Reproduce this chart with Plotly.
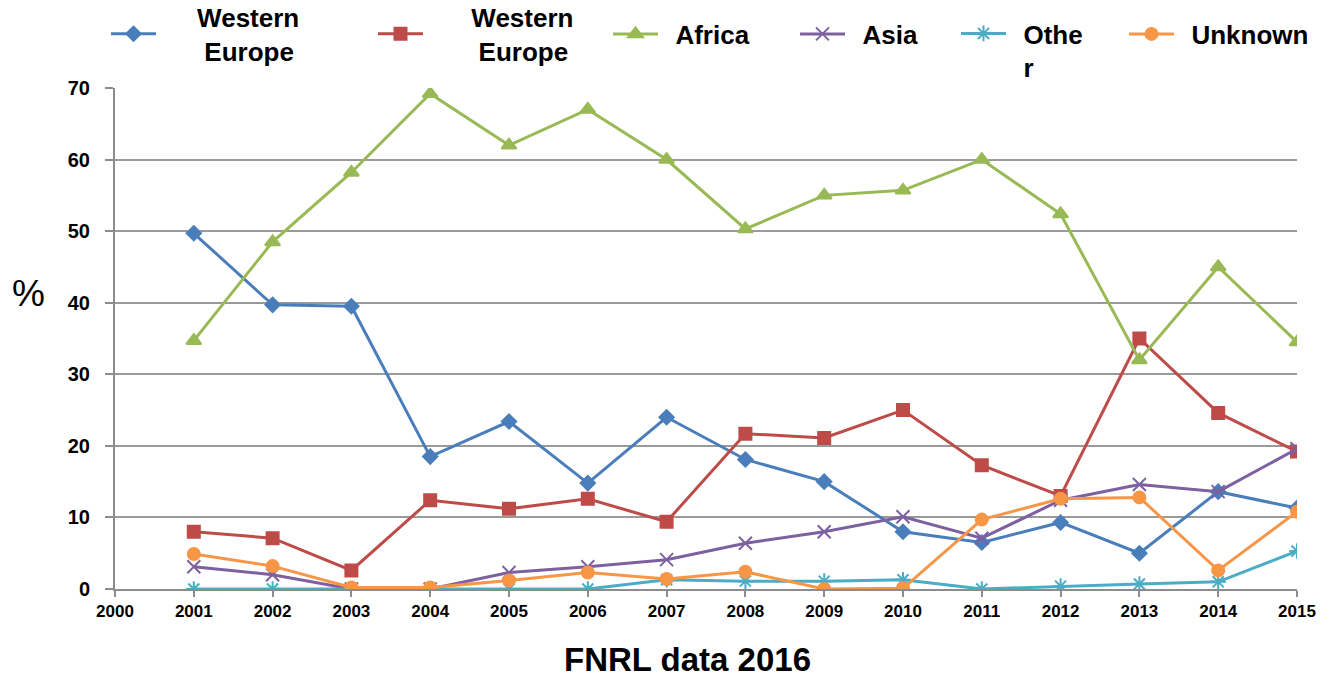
import plotly.graph_objects as go

# Share of cases by region of origin, 2001-2015 (%)
years = [2001, 2002, 2003, 2004, 2005, 2006, 2007, 2008, 2009, 2010, 2011, 2012, 2013, 2014, 2015]
western_europe_a = [49.7, 39.7, 39.5, 18.5, 23.4, 14.8, 24.0, 18.1, 15.0, 8.0, 6.5, 9.3, 5.0, 13.6, 11.3]
western_europe_b = [8.0, 7.1, 2.6, 12.4, 11.2, 12.6, 9.4, 21.7, 21.1, 25.0, 17.3, 13.0, 35.0, 24.6, 19.2]
africa = [34.7, 48.5, 58.2, 69.2, 62.0, 67.0, 60.0, 50.3, 55.0, 55.7, 60.0, 52.4, 32.0, 45.0, 34.5]
asia = [3.1, 2.0, 0.0, 0.0, 2.3, 3.1, 4.1, 6.4, 8.0, 10.1, 7.1, 12.4, 14.6, 13.6, 19.6]
other = [0.0, 0.0, 0.0, 0.0, 0.0, 0.0, 1.3, 1.1, 1.1, 1.3, 0.0, 0.4, 0.7, 1.0, 5.3]
unknown = [4.9, 3.2, 0.2, 0.2, 1.2, 2.3, 1.4, 2.4, 0.0, 0.1, 9.7, 12.6, 12.8, 2.6, 10.8]

x_ticks = list(range(2000, 2016))
y_ticks = [0, 10, 20, 30, 40, 50, 60, 70]

NB = "\u00a0"
THIN = "\u2009"

series = [
    (NB * 5 + "Western<br>" + NB * 6 + "Europe", western_europe_a, "#4A7EBB", "diamond", 11, "legend"),
    (NB * 6 + "Western<br>" + NB * 7 + "Europe", western_europe_b, "#BE4B48", "square", 12, "legend2"),
    (NB + THIN + "Africa", africa, "#98B954", "triangle-up", 13, "legend3"),
    (NB + THIN + "Asia", asia, "#7D60A0", "x-thin-open", 13, "legend4"),
    (NB + THIN + "Othe<br>" + NB + THIN + "r", other, "#4BACC6", "asterisk-open", 13, "legend5"),
    (NB + THIN + "Unknown", unknown, "#F79646", "circle", 12, "legend6"),
]

fig = go.Figure()
for name, vals, color, symbol, size, leg in series:
    fig.add_trace(go.Scatter(
        x=years, y=vals, name=name, mode="lines+markers",
        line=dict(color=color, width=3),
        marker=dict(symbol=symbol, size=size, color=color,
                    line=dict(color=color, width=2)),
        legend=leg,
    ))

W, H = 1336, 681
L, R, T, B = 115, 39, 88, 92
pw = W - L - R
ph = H - T - B


def px_x(px):
    return (px - L) / pw


def px_y(py):
    return (H - B - py) / ph


FONT = "Liberation Sans, Arial, sans-serif"
legend_font = dict(family=FONT, size=26, color="#000", weight="bold")
legend_pos = {
    "legend": (106, "middle"),
    "legend2": (373, "middle"),
    "legend3": (608, "middle"),
    "legend4": (795, "middle"),
    "legend5": (956, "top"),
    "legend6": (1124, "middle"),
}
legend_layout = {}
for key, (px, valign) in legend_pos.items():
    legend_layout[key] = dict(
        x=px_x(px), xanchor="left",
        y=px_y(34) if valign == "middle" else px_y(10),
        yanchor="middle" if valign == "middle" else "top",
        orientation="h", bgcolor="rgba(0,0,0,0)",
        font=legend_font, itemwidth=45, valign=valign,
    )

fig.update_layout(
    width=W, height=H,
    margin=dict(l=L, r=R, t=T, b=B, autoexpand=False),
    paper_bgcolor="white", plot_bgcolor="white",
    showlegend=True,
    font=dict(family=FONT, color="#000"),
    xaxis=dict(
        range=[2000, 2015], tickmode="array", tickvals=x_ticks,
        ticktext=[str(v) for v in x_ticks],
        showgrid=False, zeroline=False,
        showline=True, linecolor="#8c8c8c", linewidth=2,
        ticks="outside", ticklen=6, tickwidth=2, tickcolor="#8c8c8c",
        tickfont=dict(size=17, family=FONT, weight="bold"),
    ),
    yaxis=dict(
        range=[0, 70], tickmode="array", tickvals=y_ticks,
        showgrid=True, gridcolor="#9a9a9a", gridwidth=2, zeroline=False,
        showline=True, linecolor="#8c8c8c", linewidth=2,
        ticks="outside", ticklen=8, tickwidth=2, tickcolor="#8c8c8c",
        tickfont=dict(size=20, family=FONT, weight="bold"),
        ticklabelstandoff=11,
    ),
    annotations=[
        dict(text="%", xref="paper", yref="paper", x=px_x(28), y=px_y(293),
             xanchor="center", yanchor="middle",
             showarrow=False, font=dict(size=37)),
        dict(text="<b>FNRL data 2016</b>", xref="paper", yref="paper",
             x=px_x(687), y=px_y(659), xanchor="center", yanchor="middle",
             showarrow=False, font=dict(size=33)),
    ],
    shapes=[
        dict(type="rect", xref="paper", yref="paper", layer="above",
             x0=px_x(1003), x1=px_x(1120), y0=px_y(98), y1=px_y(72),
             fillcolor="white", line=dict(width=0)),
    ],
    **legend_layout,
)

fig.write_html("out.html")
